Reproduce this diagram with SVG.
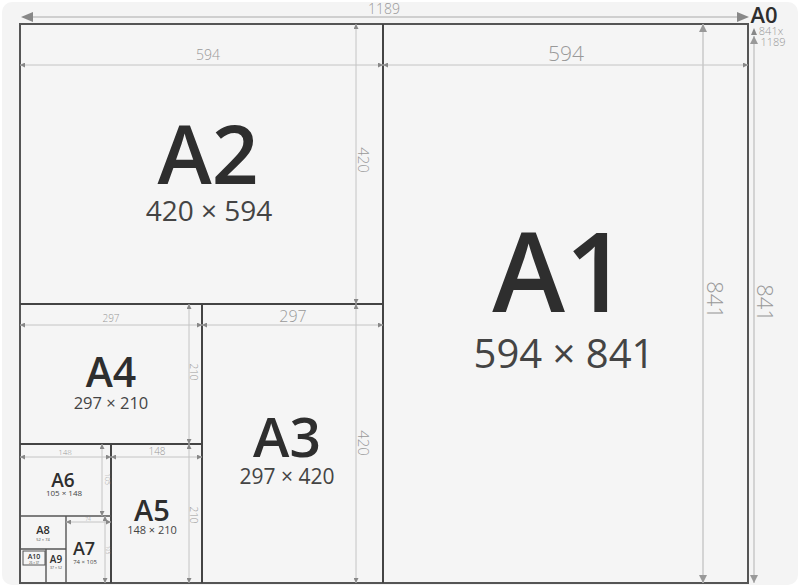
<svg xmlns="http://www.w3.org/2000/svg" width="800" height="585" viewBox="0 0 800 585">
<defs>
<marker id="a" viewBox="0 0 6 6" refX="6" refY="3" markerWidth="5" markerHeight="5" markerUnits="userSpaceOnUse" orient="auto-start-reverse"><path d="M0,0 L6,3 L0,6 z" fill="#888"/></marker>
<marker id="b" viewBox="0 0 6 6" refX="6" refY="3" markerWidth="8" markerHeight="8" markerUnits="userSpaceOnUse" orient="auto-start-reverse"><path d="M0,0 L6,3 L0,6 z" fill="#999"/></marker>
</defs>
<style>
.frame{fill:none;stroke:#444;stroke-width:2}
.thin{fill:none;stroke:#555;stroke-width:1.4}
.dim{stroke:#c4c4c4;stroke-width:1;fill:none;marker-start:url(#a);marker-end:url(#a)}
.dimb{stroke:#c8c8c8;stroke-width:1.5;fill:none;marker-start:url(#b);marker-end:url(#b)}
.lbl{font-family:"Open Sans","Liberation Sans",sans-serif;font-weight:600;fill:#2e2e2e;text-anchor:middle}
.sz{font-family:"Open Sans","Liberation Sans",sans-serif;font-weight:400;fill:#444;text-anchor:middle}
.dt{font-family:"Open Sans","Liberation Sans",sans-serif;font-weight:300;fill:#999;text-anchor:middle}
.dv{font-family:"Open Sans","Liberation Sans",sans-serif;font-weight:300;fill:#999;text-anchor:middle;dominant-baseline:central}
</style>
<rect x="0" y="0" width="800" height="585" fill="#ffffff"/>
<rect x="2" y="2" width="796" height="583" rx="10" fill="#f4f4f4"/>

<g id="A0">
<rect x="20" y="24" width="728" height="559" fill="#f5f5f5" stroke="#555" stroke-width="2"/>
<text x="764" y="23" class="lbl" font-size="22">A0</text>
<text x="771" y="35" class="dt" font-size="11" fill="#888">841x</text>
<text x="773" y="46" class="dt" font-size="11" fill="#888">1189</text>
</g>

<g id="A1">
<line x1="383" y1="24" x2="383" y2="583" class="frame"/>
<text x="560" y="312" class="lbl" font-size="110">A1</text>
<text x="564" y="368" class="sz" font-size="40">594 × 841</text>
</g>

<g id="A2">
<line x1="20" y1="304" x2="383" y2="304" class="frame"/>
<text x="208" y="184" class="lbl" font-size="82">A2</text>
<text x="209" y="221" class="sz" font-size="28">420 × 594</text>
</g>

<g id="A3">
<line x1="202" y1="304" x2="202" y2="583" class="frame"/>
<text x="287" y="457" class="lbl" font-size="55">A3</text>
<text x="287" y="484" class="sz" font-size="21">297 × 420</text>
</g>

<g id="A4">
<line x1="20" y1="444" x2="202" y2="444" class="frame"/>
<text x="111" y="387" class="lbl" font-size="41">A4</text>
<text x="111" y="409" class="sz" font-size="16.5">297 × 210</text>
</g>

<g id="A5">
<line x1="111" y1="444" x2="111" y2="583" class="frame"/>
<text x="152" y="521" class="lbl" font-size="29">A5</text>
<text x="152" y="534" class="sz" font-size="11">148 × 210</text>
</g>

<g id="A6">
<line x1="20" y1="516" x2="111" y2="516" class="thin"/>
<text x="63" y="487" class="lbl" font-size="19">A6</text>
<text x="64" y="496" class="sz" font-size="8">105 × 148</text>
</g>

<g id="A7">
<line x1="66" y1="516" x2="66" y2="583" class="thin"/>
<text x="84" y="555" class="lbl" font-size="18">A7</text>
<text x="85" y="564" class="sz" font-size="6">74 × 105</text>
</g>

<g id="A8">
<line x1="20" y1="549" x2="66" y2="549" class="thin"/>
<text x="43" y="534" class="lbl" font-size="11">A8</text>
<text x="43" y="541" class="sz" font-size="4">52 × 74</text>
</g>

<g id="A9">
<line x1="46" y1="549" x2="46" y2="583" class="thin"/>
<text x="56" y="563" class="lbl" font-size="10">A9</text>
<text x="56" y="568.5" class="sz" font-size="3.5">37 × 52</text>
</g>

<g id="A10">
<rect x="23" y="551" width="22" height="14" fill="none" stroke="#555" stroke-width="1"/>
<text x="34" y="559" class="lbl" font-size="7">A10</text>
<text x="34" y="563.5" class="sz" font-size="3">26 × 37</text>
</g>

<g id="dimensions">
<line x1="33" y1="17" x2="737" y2="17" stroke="#cfcfcf" stroke-width="2"/>
<polygon points="21,17 33,12 33,22" fill="#888"/>
<polygon points="749,17 737,12 737,22" fill="#888"/>
<text x="384" y="14" class="dt" font-size="14" fill="#888">1189</text>
<polygon points="754,28 751,35 757,35" fill="#888"/>
<line x1="754" y1="36" x2="754" y2="583" class="dimb" marker-start="none"/>
<text class="dv" font-size="22" transform="translate(766,303) rotate(90)">841</text>

<line x1="20" y1="65" x2="383" y2="65" class="dim"/>
<text x="208" y="60" class="dt" font-size="14">594</text>
<line x1="383" y1="65" x2="748" y2="65" class="dim"/>
<text x="566" y="61" class="dt" font-size="21">594</text>
<line x1="356" y1="24" x2="356" y2="304" class="dim"/>
<text class="dv" font-size="15" transform="translate(364,160) rotate(90)">420</text>
<line x1="703" y1="24" x2="703" y2="583" class="dimb"/>
<text class="dv" font-size="22" transform="translate(716,300) rotate(90)">841</text>

<line x1="20" y1="325" x2="202" y2="325" class="dim"/>
<text x="111" y="322" class="dt" font-size="10">297</text>
<line x1="202" y1="325" x2="383" y2="325" class="dim"/>
<text x="293" y="322" class="dt" font-size="16">297</text>
<line x1="189" y1="304" x2="189" y2="444" class="dim"/>
<text class="dv" font-size="10" transform="translate(194,372) rotate(90)">210</text>
<line x1="356" y1="304" x2="356" y2="583" class="dim"/>
<text class="dv" font-size="15" transform="translate(364,443) rotate(90)">420</text>

<line x1="20" y1="457" x2="111" y2="457" class="dim"/>
<text x="65" y="455" class="dt" font-size="8">148</text>
<line x1="111" y1="457" x2="202" y2="457" class="dim"/>
<text x="157" y="455" class="dt" font-size="10">148</text>
<line x1="102" y1="444" x2="102" y2="516" class="dim"/>
<text class="dv" font-size="7" transform="translate(107,479) rotate(90)">105</text>
<line x1="189" y1="444" x2="189" y2="583" class="dim"/>
<text class="dv" font-size="10" transform="translate(194,515) rotate(90)">210</text>

<line x1="66" y1="522" x2="111" y2="522" class="dim"/>
<text x="88" y="520.5" class="dt" font-size="5">74</text>
<line x1="105" y1="516" x2="105" y2="583" class="dim"/>
<text class="dv" font-size="5" transform="translate(108,550) rotate(90)">105</text>
</g>
</svg>
